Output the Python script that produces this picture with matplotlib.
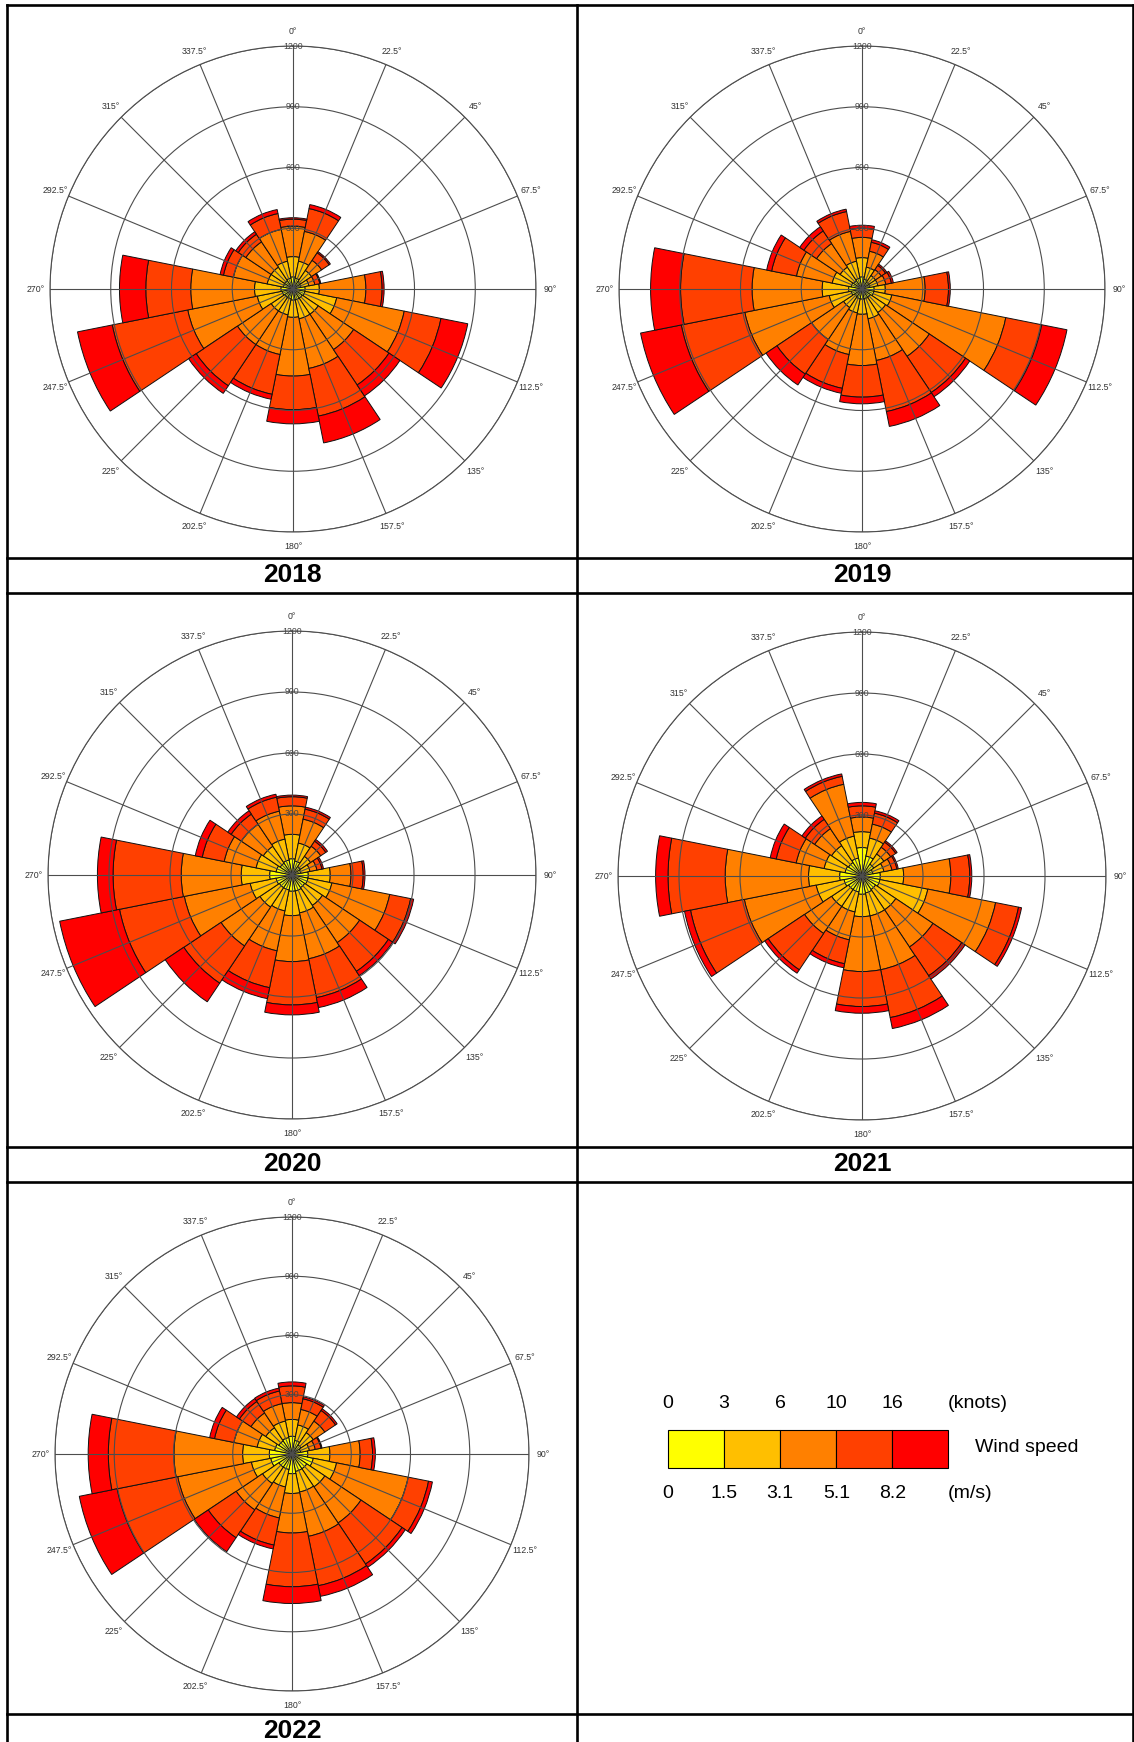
import numpy as np
import matplotlib
matplotlib.use('Agg')
import matplotlib.pyplot as plt
from matplotlib.lines import Line2D

plt.rcParams['font.family'] = ['Liberation Sans', 'DejaVu Sans']

# 16 wind directions (degrees from north, clockwise)
directions = np.arange(16) * 22.5
years = ['2018', '2019', '2020', '2021', '2022']

speed_colors = ['#FFFF00', '#FFBF00', '#FF8000', '#FF4000', '#FF0000']
knots_labels = ['0', '3', '6', '10', '16']
ms_labels = ['0', '1.5', '3.1', '5.1', '8.2']
ring_values = [300, 600, 900, 1200]

# cumulative counts per direction (N, NNE, ..., NNW), one column per speed class
cum_2018 = [[60, 160, 310, 345, 352], [55, 140, 290, 405, 425], [45, 110, 170, 215, 222],
            [40, 80, 110, 135, 140], [60, 130, 360, 440, 450], [60, 220, 560, 745, 880],
            [55, 150, 360, 570, 635], [55, 150, 400, 640, 775], [55, 140, 430, 596, 666],
            [50, 130, 330, 530, 555], [50, 130, 330, 575, 620], [55, 180, 530, 910, 1085],
            [60, 190, 505, 727, 857], [50, 130, 300, 350, 367], [50, 130, 280, 325, 340],
            [55, 140, 300, 380, 400]]
cum_2019 = [[60, 155, 255, 300, 315], [50, 110, 190, 235, 248], [40, 80, 115, 140, 148],
            [40, 80, 120, 148, 158], [60, 115, 312, 427, 436], [60, 150, 724, 905, 1032],
            [50, 140, 400, 615, 640], [50, 150, 360, 617, 692], [50, 125, 378, 534, 567],
            [50, 120, 330, 500, 525], [45, 110, 300, 505, 570], [55, 165, 590, 910, 1115],
            [66, 197, 543, 896, 1044], [55, 150, 330, 455, 480], [50, 130, 270, 345, 370],
            [55, 140, 290, 390, 402]]
cum_2020 = [[80, 200, 340, 385, 393], [70, 160, 280, 330, 340], [50, 110, 170, 200, 210],
            [45, 90, 125, 150, 158], [80, 188, 290, 350, 359], [80, 200, 490, 595, 610],
            [75, 180, 400, 570, 595], [80, 190, 420, 615, 665], [80, 200, 426, 639, 688],
            [75, 180, 380, 565, 620], [75, 190, 420, 640, 750], [80, 210, 540, 865, 1165],
            [110, 250, 545, 880, 957], [80, 180, 340, 450, 485], [70, 170, 300, 360, 380],
            [75, 180, 320, 390, 405]]
cum_2021 = [[140, 218, 290, 345, 362], [100, 190, 260, 315, 327], [70, 130, 170, 200, 208],
            [55, 110, 150, 175, 182], [90, 205, 437, 530, 540], [90, 330, 670, 785, 800],
            [80, 200, 420, 590, 610], [85, 200, 470, 710, 765], [90, 200, 470, 642, 675],
            [80, 180, 320, 440, 460], [80, 180, 340, 555, 575], [90, 230, 590, 860, 890],
            [110, 263, 673, 954, 1015], [85, 190, 330, 430, 460], [80, 180, 280, 335, 355],
            [90, 200, 460, 500, 512]]
cum_2022 = [[90, 175, 260, 345, 365], [70, 150, 230, 285, 295], [55, 130, 200, 265, 275],
            [45, 90, 120, 150, 155], [80, 192, 345, 408, 422], [110, 230, 600, 705, 725],
            [90, 200, 420, 670, 690], [90, 196, 425, 680, 735], [100, 200, 400, 672, 757],
            [80, 170, 330, 470, 490], [80, 180, 340, 510, 595], [110, 210, 590, 903, 1098],
            [115, 250, 598, 930, 1032], [90, 180, 300, 400, 425], [80, 160, 250, 320, 338],
            [85, 170, 260, 325, 340]]

W, H = 1134, 1742


def px_rect(cx, cy, r):
    """Axes rectangle (figure fraction) for a rose centred at pixel (cx, cy) with radius r."""
    return [(cx - r) / W, 1 - (cy + r) / H, 2 * r / W, 2 * r / H]


def wind_rose(fig, rect, cum):
    """Draw one stacked wind rose from cumulative counts."""
    ax = fig.add_axes(rect, projection='polar')
    ax.set_theta_zero_location('N')
    ax.set_theta_direction(-1)

    cum = np.array(cum, dtype=float)
    theta = np.deg2rad(directions)
    width = 2 * np.pi / 16
    bottom = np.zeros(16)
    for k in range(5):
        height = cum[:, k] - bottom
        ax.bar(theta, height, width=width, bottom=bottom, color=speed_colors[k],
               edgecolor='#111111', linewidth=0.7, zorder=1)
        bottom = cum[:, k]

    ax.set_ylim(0, 1200)
    ax.set_yticks(ring_values)
    ax.set_yticklabels([])
    ax.set_xticks(theta)
    ax.set_xticklabels(['%g°' % d for d in directions], fontsize=6.3, color='#333333')
    ax.tick_params(axis='x', size=0, pad=3.5)
    ax.grid(True, color='#4d4d4d', linewidth=0.8)
    ax.set_axisbelow(False)
    ax.spines['polar'].set_color('#4d4d4d')
    ax.spines['polar'].set_linewidth(0.8)

    for rv in ring_values:
        ax.text(0, rv, str(rv), ha='center', va='center', fontsize=6.3,
                color='#444444', zorder=5)
    return ax


fig = plt.figure(figsize=(W / 100, H / 100), dpi=100)

centres = [(293, 289, 243), (862, 289, 243), (292, 875, 244), (862, 876, 244), (292, 1454, 237)]
all_cum = [cum_2018, cum_2019, cum_2020, cum_2021, cum_2022]
for (cx, cy, r), cum in zip(centres, all_cum):
    wind_rose(fig, px_rect(cx, cy, r), cum)

# year captions
label_pos = [(292, 575), (862, 575), (292, 1164), (862, 1164), (292, 1731)]
for (x, y), yr in zip(label_pos, years):
    fig.text(x / W, 1 - y / H, yr, ha='center', va='center', fontsize=19, fontweight='bold')

# table grid
lw = 1.9
for x in [7, 577, 1133]:
    fig.add_artist(Line2D([x / W, x / W], [1 - 5 / H, 0], transform=fig.transFigure,
                          color='black', linewidth=lw))
for y in [5, 558, 593, 1147, 1182, 1714]:
    fig.add_artist(Line2D([7 / W, 1], [1 - y / H, 1 - y / H], transform=fig.transFigure,
                          color='black', linewidth=lw))

# speed legend
leg = fig.add_axes([668 / W, 1 - 1468 / H, 280.5 / W, 38 / H])
leg.bar(np.arange(5), np.ones(5), width=1, align='edge', color=speed_colors,
        edgecolor='black', linewidth=0.8, clip_on=False)
leg.set_xlim(0, 5)
leg.set_ylim(0, 1)
leg.axis('off')
for i in range(5):
    leg.text(i, 1.71, knots_labels[i], ha='center', va='center', fontsize=14)
    leg.text(i, -0.66, ms_labels[i], ha='center', va='center', fontsize=14)
leg.text(4.98, 1.71, '(knots)', ha='left', va='center', fontsize=14)
leg.text(4.98, -0.66, '(m/s)', ha='left', va='center', fontsize=14)
leg.text(5.48, 0.55, 'Wind speed', ha='left', va='center', fontsize=14)

fig.savefig('out.png', dpi=100)
